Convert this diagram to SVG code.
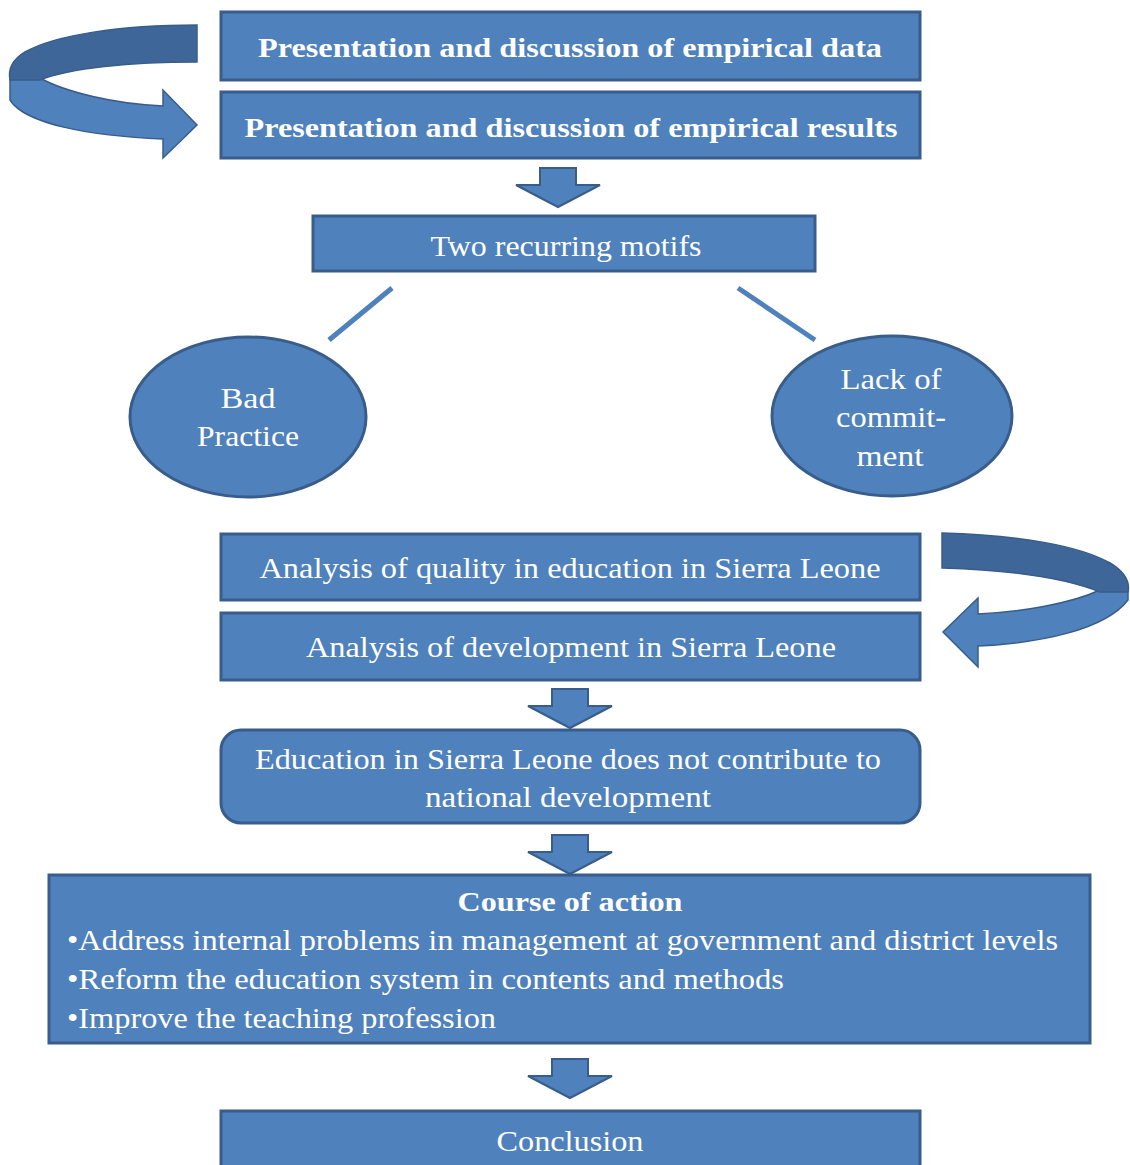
<svg xmlns="http://www.w3.org/2000/svg" width="1130" height="1165" viewBox="0 0 1130 1165">
  <defs>
    <style>
      .box { fill: #4f81bd; stroke: #385d8a; stroke-width: 3; }
      .dark { fill: #3e6698; stroke: #385d8a; stroke-width: 1.5; }
      .light { fill: #4f81bd; stroke: #385d8a; stroke-width: 1.5; }
      .link { stroke: #4f81bd; stroke-width: 5; fill: none; }
      text { font-family: "Liberation Serif", "DejaVu Serif", serif; fill: #ffffff; font-size: 29px; }
      .b { font-weight: bold; font-size: 28px; }
      .c { text-anchor: middle; }
    </style>
    <path id="down" d="M-18,0 H18 V17 H42 L0,39 L-42,17 H-18 Z"/>
  </defs>

  <rect width="1130" height="1165" fill="#ffffff"/>

  <!-- connectors: block arrows, curved arrows, lines -->
  <g id="connectors">
    <use href="#down" x="558" y="168" class="box" style="stroke-width:2"/>
    <use href="#down" x="570" y="689" class="box" style="stroke-width:2"/>
    <use href="#down" x="570" y="835" class="box" style="stroke-width:2"/>
    <use href="#down" x="570" y="1059" class="box" style="stroke-width:2"/>

    <line class="link" x1="392" y1="288" x2="329" y2="340"/>
    <line class="link" x1="738" y1="288" x2="815" y2="340"/>

    <!-- curved arrow, left -->
    <path class="light" d="M40,78 C65,92 115,104 163,106 L163,90 L197,125 L163,158 L163,139 C90,136 25,124 10,100 L10,76 Z"/>
    <path class="dark" d="M197,25 L197,62 C130,62 70,68 40,80 L10,80 C8,70 12,60 25,52 C55,35 120,25 197,25 Z"/>

    <!-- curved arrow, right -->
    <path class="light" d="M1100,590 C1070,604 1020,612 978,614 L978,598 L943,632 L978,667 L978,646 C1040,643 1105,630 1128,600 L1128,588 Z"/>
    <path class="dark" d="M942,533 L942,568 C1010,570 1065,578 1100,592 L1128,592 C1130,582 1125,572 1110,563 C1080,546 1020,535 942,533 Z"/>
  </g>

  <g id="node-data">
    <rect class="box" x="221" y="12" width="699" height="68"/>
    <text class="b c" x="570" y="57" textLength="624" lengthAdjust="spacingAndGlyphs">Presentation and discussion of empirical data</text>
  </g>

  <g id="node-results">
    <rect class="box" x="221" y="92" width="699" height="66"/>
    <text class="b c" x="571" y="137" textLength="653" lengthAdjust="spacingAndGlyphs">Presentation and discussion of empirical results</text>
  </g>

  <g id="node-motifs">
    <rect class="box" x="313" y="216" width="502" height="55"/>
    <text class="c" x="566" y="256" textLength="271" lengthAdjust="spacingAndGlyphs">Two recurring motifs</text>
  </g>

  <g id="node-bad-practice">
    <ellipse class="box" cx="248" cy="417" rx="118" ry="80"/>
    <text class="c" x="248" y="408" textLength="55" lengthAdjust="spacingAndGlyphs">Bad</text>
    <text class="c" x="248" y="446" textLength="102" lengthAdjust="spacingAndGlyphs">Practice</text>
  </g>

  <g id="node-commitment">
    <ellipse class="box" cx="892" cy="416" rx="120" ry="80"/>
    <text class="c" x="891" y="389" textLength="101" lengthAdjust="spacingAndGlyphs">Lack of</text>
    <text class="c" x="891" y="427" textLength="110" lengthAdjust="spacingAndGlyphs">commit-</text>
    <text class="c" x="890" y="466" textLength="67" lengthAdjust="spacingAndGlyphs">ment</text>
  </g>

  <g id="node-quality">
    <rect class="box" x="221" y="534" width="699" height="66"/>
    <text class="c" x="570" y="578" textLength="621" lengthAdjust="spacingAndGlyphs">Analysis of quality in education in Sierra Leone</text>
  </g>

  <g id="node-development">
    <rect class="box" x="221" y="613" width="699" height="67"/>
    <text class="c" x="571" y="657" textLength="530" lengthAdjust="spacingAndGlyphs">Analysis of development in Sierra Leone</text>
  </g>

  <g id="node-finding">
    <rect class="box" x="221" y="730" width="699" height="93" rx="20"/>
    <text class="c" x="568" y="769" textLength="626" lengthAdjust="spacingAndGlyphs">Education in Sierra Leone does not contribute to</text>
    <text class="c" x="568" y="807" textLength="286" lengthAdjust="spacingAndGlyphs">national development</text>
  </g>

  <g id="node-course">
    <rect class="box" x="49" y="875" width="1041" height="168"/>
    <text class="b c" x="570" y="911" textLength="225" lengthAdjust="spacingAndGlyphs">Course of action</text>
    <text x="67" y="950" textLength="991" lengthAdjust="spacingAndGlyphs">•Address internal problems in management at government and district levels</text>
    <text x="67" y="989" textLength="717" lengthAdjust="spacingAndGlyphs">•Reform the education system in contents and methods</text>
    <text x="67" y="1028" textLength="429" lengthAdjust="spacingAndGlyphs">•Improve the teaching profession</text>
  </g>

  <g id="node-conclusion">
    <rect class="box" x="221" y="1111" width="699" height="60"/>
    <text class="c" x="570" y="1151" textLength="147" lengthAdjust="spacingAndGlyphs">Conclusion</text>
  </g>
</svg>
